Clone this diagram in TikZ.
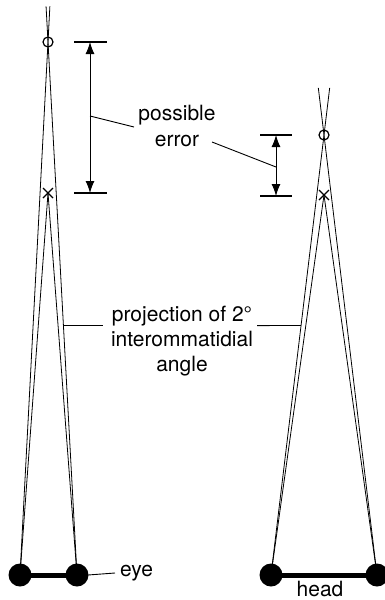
\documentclass[tikz,border=0pt]{standalone}
\usepackage{fontspec}
\setmainfont{TeX Gyre Heros}
\usetikzlibrary{calc, arrows.meta}

\tikzset{
  ray/.style={line width=0.8pt},
  tick/.style={line width=1.1pt},
  dimarrow/.style={line width=1pt, {Latex[length=12pt,width=9pt]}-{Latex[length=12pt,width=9pt]}},
  leader/.style={line width=0.9pt},
  lbl/.style={font=\fontsize{21}{25}\selectfont, align=center, inner sep=0pt},
  dot/.style={fill=black},
}

\begin{document}
\begin{tikzpicture}[x=1pt, y=-1pt]
    \useasboundingbox (0,0) rectangle (384,600);

    % Ojos y cabeza
    \coordinate (eyeL) at (20,575);
    \coordinate (eyeR) at (77,575);
    \coordinate (oL) at (48,42);
    \coordinate (xL) at (48,193);
    \coordinate (headL) at (271,575);
    \coordinate (headR) at (377,575);
    \coordinate (oR) at (324,135);
    \coordinate (xR) at (324,195);

    % Rayos del ojo
    \draw[ray] (eyeL) -- ($(eyeL)!1.067!(oL)$);
    \draw[ray] (eyeR) -- ($(eyeR)!1.067!(oL)$);
    \draw[ray] (eyeL) -- (xL);
    \draw[ray] (eyeR) -- (xL);

    % Rayos de la cabeza
    \draw[ray] (headL) -- ($(headL)!1.107!(oR)$);
    \draw[ray] (headR) -- ($(headR)!1.107!(oR)$);
    \draw[ray] (headL) -- (xR);
    \draw[ray] (headR) -- (xR);

    % Marcas o y x
    \draw[line width=1.2pt] (oL) circle (5);
    \draw[line width=1.2pt] (oR) circle (5);
    \draw[line width=1.1pt] ($(xL)+(-5,-5)$) -- ($(xL)+(5,5)$) ($(xL)+(-5,5)$) -- ($(xL)+(5,-5)$);
    \draw[line width=1.1pt] ($(xR)+(-5,-5)$) -- ($(xR)+(5,5)$) ($(xR)+(-5,5)$) -- ($(xR)+(5,-5)$);

    % Barras y puntos
    \draw[line width=5pt] (eyeL) -- (eyeR);
    \draw[line width=5pt] (headL) -- (headR);
    \foreach \p in {eyeL, eyeR, headL, headR}
        \fill[dot] (\p) circle (11.5);

    % Cotas de error
    \coordinate (dimLtop) at (90,42);
    \coordinate (dimLbot) at (90,193);
    \coordinate (dimRtop) at (276,135);
    \coordinate (dimRbot) at (276,196);
    \draw[tick] (74,42) -- (107,42);
    \draw[tick] (74,193) -- (107,193);
    \draw[tick] (260,135) -- (292,135);
    \draw[tick] (260,196) -- (292,196);
    \draw[dimarrow] (dimLtop) -- (dimLbot);
    \draw[dimarrow] (dimRtop) -- (dimRbot);

    % Textos
    \node[lbl] (error) at (177,126) {possible\\error};
    \node[lbl] (proj) at (182,341) {projection of 2°\\interommatidial\\angle};
    \node[lbl, anchor=west] (eye) at (120,573) {eye};
    \node[lbl, anchor=base] (head) at (320,596) {head};

    % Lineas de referencia
    \draw[leader] (90,116) -- (134,127);
    \draw[leader] (212,142) -- (276,167);
    \draw[leader] ($(eyeR)!0.468!(oL)$) ++(0,0) coordinate (pL) -- (103,0 |- pL);
    \draw[leader] (257,0 |- pL) -- ($(headL)!0.567!(oR)$);
    \draw[leader] (eyeR) ++(11,0) -- ($(eye.west)+(-5,0)$);
\end{tikzpicture}
\end{document}
